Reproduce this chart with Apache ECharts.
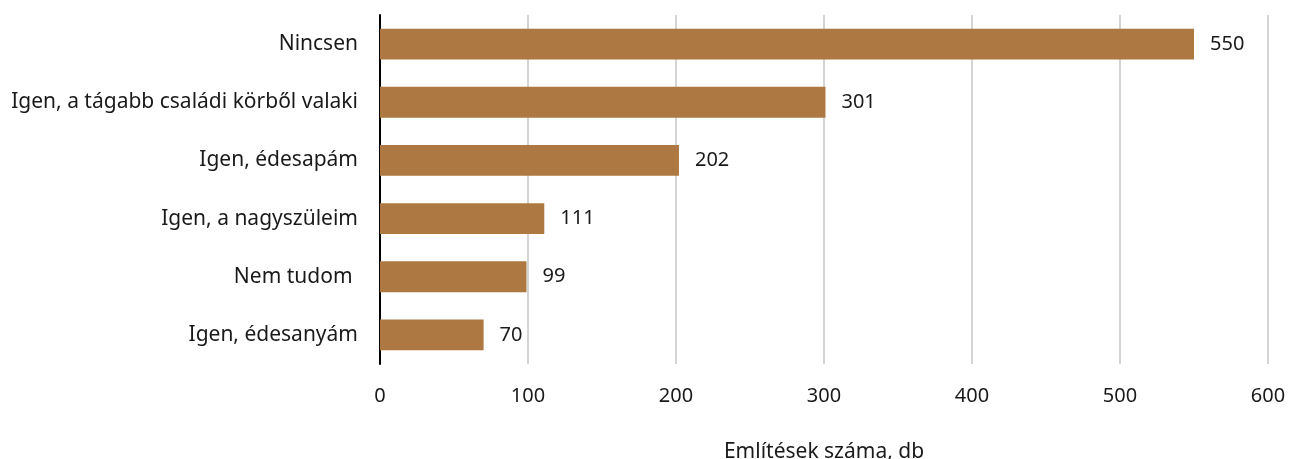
<!DOCTYPE html>
<html>
<head>
<meta charset="utf-8">
<script src="https://cdn.jsdelivr.net/npm/echarts@6/dist/echarts.min.js"></script>
<style>
html, body { margin: 0; padding: 0; background: #fff; }
#chart { width: 1290px; height: 459px; }
</style>
</head>
<body>
<div id="chart"></div>
<script>
var categories = ['Igen, édesanyám', 'Nem tudom ', 'Igen, a nagyszüleim', 'Igen, édesapám', 'Igen, a tágabb családi körből valaki', 'Nincsen'];
var values = [70, 99, 111, 202, 301, 550];
var axisTitle = 'Említések száma, db';

var chart = echarts.init(document.getElementById('chart'));
var font = '"Noto Sans", "Open Sans", sans-serif';

chart.setOption({
	backgroundColor: '#fff',
	animation: false,
	grid: { left: 380, right: 22, top: 15, bottom: 95, containLabel: false, outerBoundsMode: 'none' },
	xAxis: {
		type: 'value',
		min: 0,
		max: 600,
		interval: 100,
		name: axisTitle,
		nameLocation: 'middle',
		nameGap: 78,
		nameTextStyle: { color: '#1a1a1a', fontSize: 21, fontFamily: font },
		axisLine: { show: false },
		axisTick: { show: false },
		axisLabel: { color: '#1a1a1a', fontSize: 20, fontFamily: font, margin: 22 },
		splitLine: { show: true, lineStyle: { color: '#d4d4d4', width: 2 } }
	},
	yAxis: {
		type: 'category',
		data: categories,
		axisLine: { show: true, lineStyle: { color: '#000', width: 2 } },
		axisTick: { show: false },
		axisLabel: { color: '#1a1a1a', fontSize: 21, fontFamily: font, margin: 22 }
	},
	series: [{
		type: 'bar',
		data: values,
		barCategoryGap: '47%',
		itemStyle: { color: '#ad7841' },
		label: {
			show: true,
			position: 'right',
			distance: 16,
			color: '#1a1a1a',
			fontSize: 20,
			fontFamily: font
		}
	}]
});
</script>
</body>
</html>
